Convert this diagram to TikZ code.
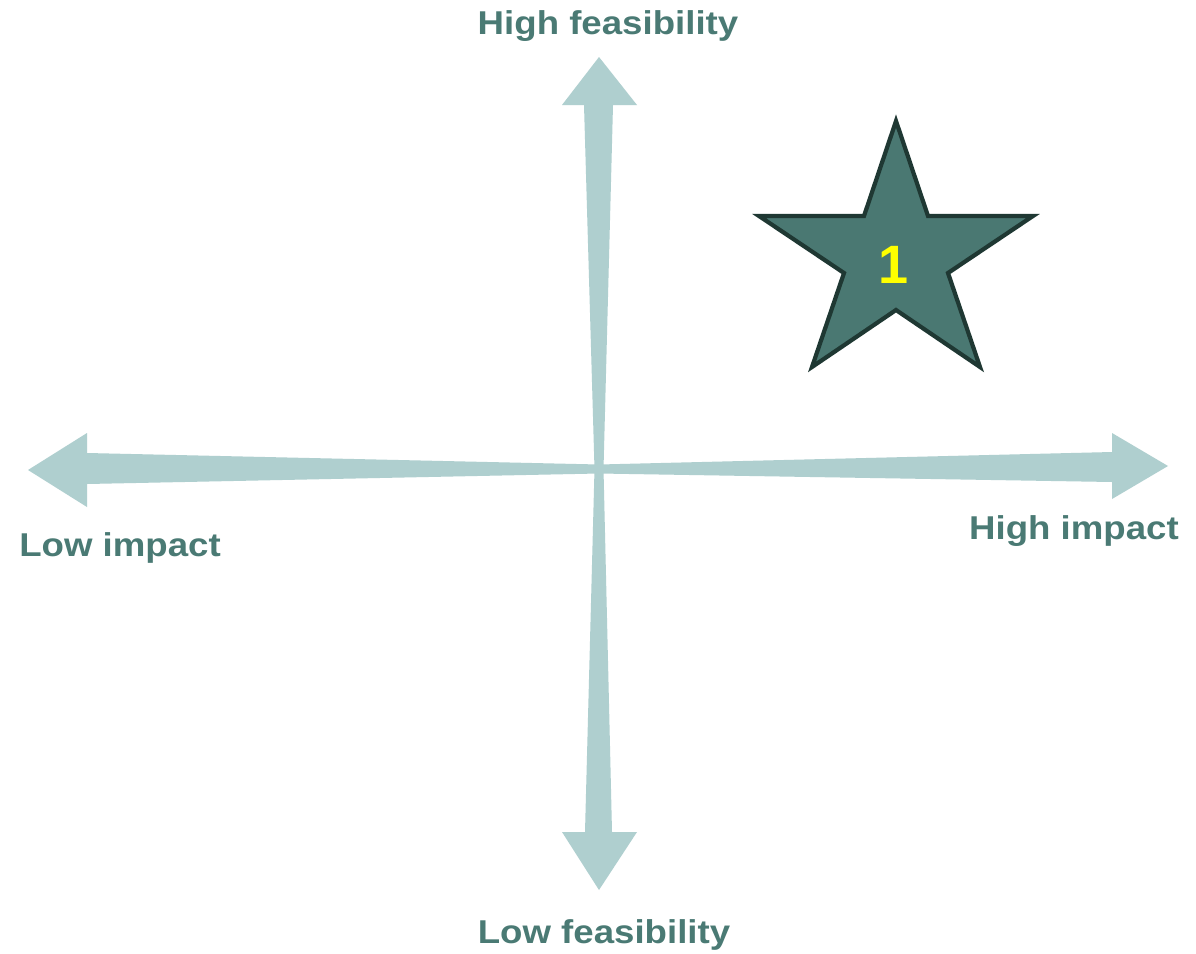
\documentclass[tikz,border=0pt]{standalone}
\usepackage{fontspec}
\setmainfont{Liberation Sans}
\definecolor{axiscol}{HTML}{AFCFCF}
\definecolor{labelcol}{HTML}{4A7A74}
\definecolor{starfill}{HTML}{4A7872}
\definecolor{starline}{HTML}{1F3833}
\definecolor{numcol}{HTML}{FFFF00}
\tikzset{
  axisarrow/.style={fill=axiscol, draw=none},
  axislabel/.style={text=labelcol, font=\fontsize{33}{38}\selectfont\bfseries, anchor=base, inner sep=0pt, xscale=1.11},
  starshape/.style={fill=starfill, draw=starline, line width=4.2pt, line join=miter},
  starnum/.style={text=numcol, font=\fontsize{54}{60}\selectfont\bfseries, anchor=base, inner sep=0pt}
}
\begin{document}
\begin{tikzpicture}[x=1pt,y=-1pt]
\useasboundingbox[fill=white] (0,0) rectangle (1196,953);
% named end points of the axes
\coordinate (top) at (599,57);
\coordinate (bottom) at (599,890);
\coordinate (left) at (28,470);
\coordinate (right) at (1168,466);
\coordinate (origin) at (599,469);
% vertical axis (tapered double arrow)
\fill[axisarrow] (top) -- (637,105) -- (613,105) -- (603.5,469) -- (612,832) -- (637,832)
  -- (bottom) -- (562,832) -- (585,832) -- (594.5,469) -- (584,105) -- (562,105) -- cycle;
% horizontal axis (tapered double arrow)
\fill[axisarrow] (left) -- (87,433) -- (87,453) -- (599,464.5) -- (1112,452) -- (1112,433)
  -- (right) -- (1112,499) -- (1112,482) -- (599,473.5) -- (87,484) -- (87,507) -- cycle;
% labels
\node[axislabel] (hf) at (608,34) {High feasibility};
\node[axislabel] (lf) at (604,943) {Low feasibility};
\node[axislabel] (li) at (120,556) {Low impact};
\node[axislabel] (hi) at (1074,539) {High impact};
% star
\filldraw[starshape] (896,121) -- (928,216) -- (1033,216) -- (948,273) -- (980,367)
  -- (896,310) -- (812,367) -- (844,273) -- (759,216) -- (864,216) -- cycle;
\node[starnum] (one) at (894,283) {1};
\end{tikzpicture}
\end{document}
